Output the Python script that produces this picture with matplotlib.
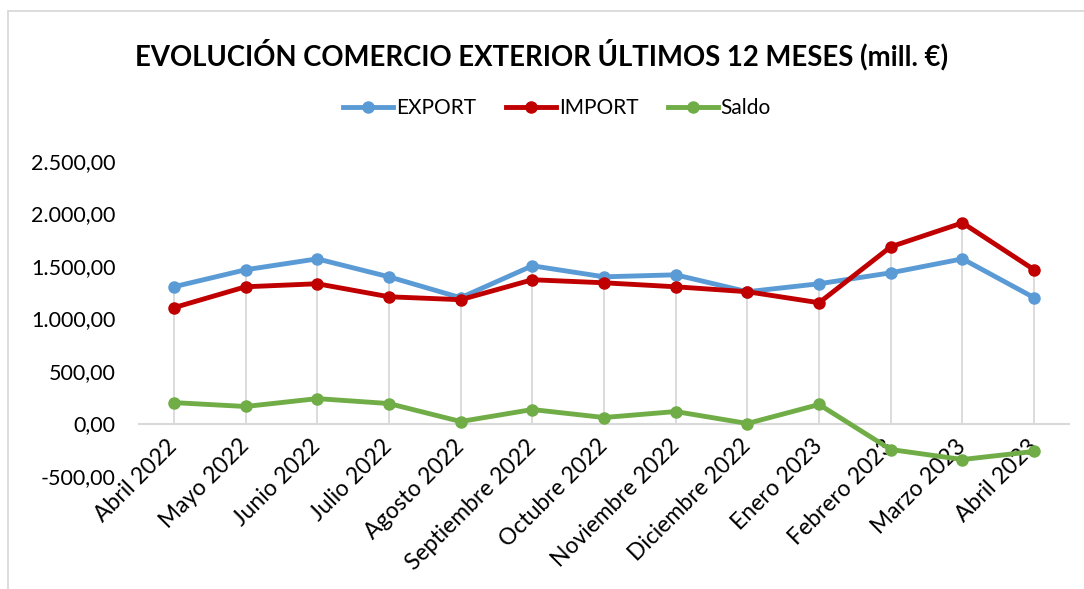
import matplotlib.pyplot as plt
from matplotlib.patches import Rectangle
from matplotlib.ticker import FuncFormatter
import numpy as np

plt.rcParams['font.family'] = ['Lato', 'DejaVu Sans']

# datos (mill. €)
meses = ["Abril 2022", "Mayo 2022", "Junio 2022", "Julio 2022", "Agosto 2022",
         "Septiembre 2022", "Octubre 2022", "Noviembre 2022", "Diciembre 2022",
         "Enero 2023", "Febrero 2023", "Marzo 2023", "Abril 2023"]
export = [1302, 1464, 1568, 1397, 1198, 1502, 1397, 1416, 1255, 1331, 1435, 1568, 1198]
importe = [1103, 1302, 1331, 1207, 1179, 1369, 1340, 1302, 1255, 1150, 1683, 1911, 1464]
saldo = [199, 162, 237, 190, 19, 133, 57, 114, 0, 181, -248, -343, -266]

fig = plt.figure(figsize=(10.84, 5.89), dpi=100)
ax = fig.add_axes([138 / 1084, 1 - 476 / 589, (1070 - 138) / 1084, (476 - 161) / 589])

x = np.arange(len(meses))

# líneas de caída (gris) desde 0 hasta el máximo
tops = np.maximum(np.maximum(export, importe), saldo)
ax.vlines(x, 0, tops, color='#d9d9d9', lw=1.3, zorder=1)
ax.axhline(0, color='#d9d9d9', lw=1.5, zorder=1)

ax.plot(x, export, color='#5b9bd5', lw=3.5, marker='o', ms=8, label='EXPORT', zorder=3)
ax.plot(x, importe, color='#c00000', lw=3.5, marker='o', ms=8, label='IMPORT', zorder=3)
ax.plot(x, saldo, color='#70ad47', lw=3.5, marker='o', ms=8, label='Saldo', zorder=3)

ax.set_xlim(-0.5, len(meses) - 0.5)
ax.set_ylim(-500, 2500)
ax.set_yticks(np.arange(-500, 2501, 500))


def fmt(v, pos):
    s = f"{v:,.2f}"
    return s.replace(",", "X").replace(".", ",").replace("X", ".")


ax.yaxis.set_major_formatter(FuncFormatter(fmt))

# el eje de categorías cruza en 0, como en Excel
ax.spines['bottom'].set_position(('data', 0))
ax.set_xticks(x)
ax.set_xticklabels(meses, rotation=45, ha='right', va='center', rotation_mode='anchor')
ax.tick_params(axis='both', length=0, labelsize=15.5, colors='#000000')
ax.tick_params(axis='x', pad=14, labelsize=16.5)
ax.tick_params(axis='y', pad=16)
for s in ax.spines.values():
    s.set_visible(False)
ax.patch.set_alpha(0)

fig.text(0.5, 1 - 55 / 589, "EVOLUCIÓN COMERCIO EXTERIOR ÚLTIMOS 12 MESES (mill. €)",
         ha='center', va='center', fontsize=19.8, fontweight='bold')
fig.legend(loc='center', bbox_to_anchor=(0.514, 1 - 108 / 589), ncol=3, frameon=False,
           fontsize=15, handlelength=2.4, columnspacing=1.4, handletextpad=0.15)

# borde del área del gráfico
fig.patches.append(Rectangle((8 / 1084, -0.1), 1.2, 1 - 11 / 589 + 0.1, transform=fig.transFigure,
                             fill=False, edgecolor='#d9d9d9', lw=1.3))

fig.savefig("out.png", dpi=100)
